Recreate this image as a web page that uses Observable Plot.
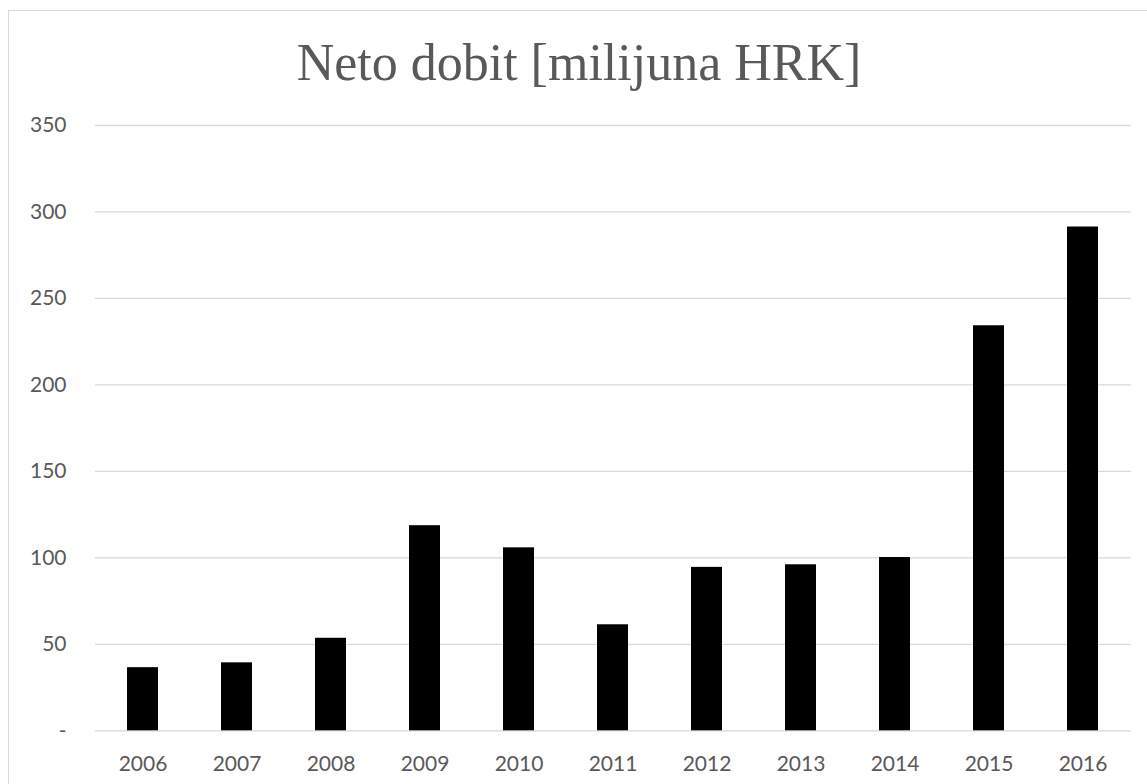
<!DOCTYPE html>
<html>
<head>
<meta charset="utf-8">
<script src="https://cdn.jsdelivr.net/npm/d3@7"></script>
<script src="https://cdn.jsdelivr.net/npm/@observablehq/plot@0.6"></script>
<style>
  html, body { margin: 0; padding: 0; background: #fff; overflow: hidden; width: 1147px; height: 784px; }
  #frame { position: absolute; left: 8px; top: 10px; width: 2000px; height: 2000px; border: 1px solid #d9d9d9; box-sizing: border-box; pointer-events: none; }
  #wrap { position: absolute; left: 0; top: 0; width: 1147px; }
  #title { box-sizing: border-box; height: 100px; padding-top: 36.5px; line-height: 52px; font-family: "Liberation Serif", "Times New Roman", serif; font-size: 52px; color: #595959; text-align: center; width: 1158px; white-space: nowrap; }
</style>
</head>
<body>
<div id="frame"></div>
<div id="wrap">
  <div id="title">Neto dobit [milijuna HRK]</div>
  <div id="chart"></div>
</div>
<script>
const years = ["2006","2007","2008","2009","2010","2011","2012","2013","2014","2015","2016"];
const profit = [36.5, 39.3, 53.5, 118.6, 105.8, 61.3, 94.5, 96.0, 100.2, 234.2, 291.3];
const yTicks = [0, 50, 100, 150, 200, 250, 300, 350];

const data = years.map((y, i) => ({year: y, value: profit[i]}));

const chart = Plot.plot({
  width: 1147,
  height: 684,
  marginLeft: 95,
  marginRight: 16,
  marginTop: 25,
  marginBottom: 53.7,
  style: { fontFamily: "Lato, 'Open Sans', sans-serif", fontSize: "21px", color: "#595959", background: "transparent" },
  x: { domain: years, paddingInner: 0.665, paddingOuter: 0.3325, label: null },
  y: { domain: [0, 350], label: null },
  marks: [
    Plot.ruleY(yTicks, { stroke: "#d9d9d9", strokeWidth: 1.3 }),
    Plot.barY(data, { x: "year", y: "value", fill: "#000" }),
    Plot.axisY({ ticks: yTicks, tickSize: 0, tickPadding: 29, tickFormat: d => d === 0 ? "-" : String(d), label: null, fill: "#595959" }),
    Plot.axisX({ tickSize: 0, tickPadding: 25, label: null, fill: "#595959" })
  ]
});
document.getElementById("chart").appendChild(chart);
</script>
</body>
</html>
